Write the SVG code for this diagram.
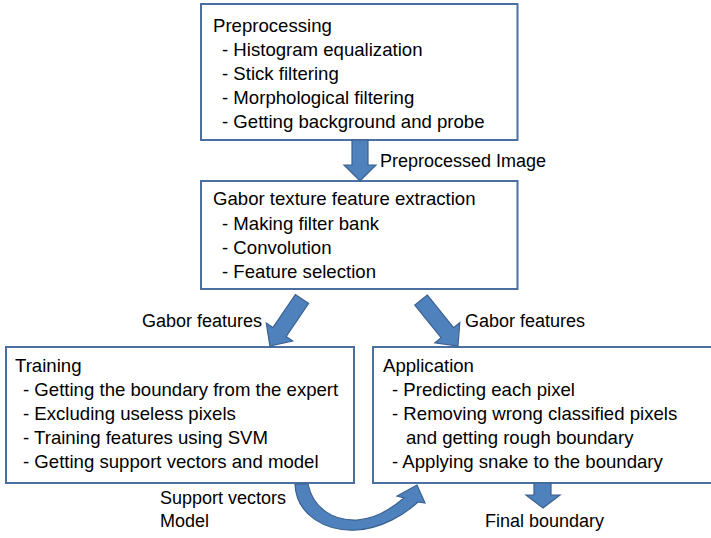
<svg xmlns="http://www.w3.org/2000/svg" width="711" height="538" viewBox="0 0 711 538">
<style>
.box{fill:#fff;stroke:#4A6FA0;stroke-width:2}
.t{font-family:"Liberation Sans",Arial,sans-serif;font-size:18px;fill:#000}
.b{font-size:18.6px}
.arr{fill:#4F81BD;stroke:#3A6190;stroke-width:1.2;stroke-linejoin:miter}
</style>
<rect width="711" height="538" fill="#fff"/>
<g id="preprocessing">
<rect class="box" x="201" y="4" width="316.5" height="136"/>
<text class="t b" x="213" y="32">Preprocessing</text>
<text class="t b" x="222" y="56">- Histogram equalization</text>
<text class="t b" x="222" y="80">- Stick filtering</text>
<text class="t b" x="222" y="104">- Morphological filtering</text>
<text class="t b" x="222" y="128">- Getting background and probe</text>
</g>
<g id="gabor">
<rect class="box" x="201" y="181" width="316.5" height="108"/>
<text class="t b" x="213" y="205">Gabor texture feature extraction</text>
<text class="t b" x="222" y="230">- Making filter bank</text>
<text class="t b" x="222" y="254">- Convolution</text>
<text class="t b" x="222" y="278">- Feature selection</text>
</g>
<g id="training">
<rect class="box" x="6" y="347" width="348" height="136"/>
<text class="t b" x="15" y="372">Training</text>
<text class="t b" x="23" y="396">- Getting the boundary from the expert</text>
<text class="t b" x="23" y="420">- Excluding useless pixels</text>
<text class="t b" x="23" y="444">- Training features using SVM</text>
<text class="t b" x="23" y="468">- Getting support vectors and model</text>
</g>
<g id="application">
<rect class="box" x="373" y="347" width="345" height="136"/>
<text class="t b" x="383" y="372">Application</text>
<text class="t b" x="392" y="396">- Predicting each pixel</text>
<text class="t b" x="392" y="420">- Removing wrong classified pixels</text>
<text class="t b" x="406" y="444">and getting rough boundary</text>
<text class="t b" x="392" y="468">- Applying snake to the boundary</text>
</g>
<g id="connectors">
<path class="arr" d="M352,140 H368 V165 H376 L360,181 L344,165 H352 Z"/>
<path class="arr" transform="translate(302,299) rotate(124.25)" d="M0,-8 H40 V-16 L57,0 L40,16 V8 H0 Z"/>
<path class="arr" transform="translate(421,300) rotate(51.2)" d="M0,-8 H42 V-16 L59,0 L42,16 V8 H0 Z"/>
<path class="arr" d="M295,484 C296,515 326,532 357,530 C382,528 404,515 418,502 L425,503 L417,485 L397,496 L404,498 C390,510 375,519 357,520 C333,521 313,508 308,484 Z"/>
<path class="arr" d="M534,483 H551 V495 H560 L543,508 L526,495 H534 Z"/>
<text class="t" x="380" y="167">Preprocessed Image</text>
<text class="t" x="142" y="327">Gabor features</text>
<text class="t" x="465" y="327">Gabor features</text>
<text class="t" x="160" y="504">Support vectors</text>
<text class="t" x="160" y="527">Model</text>
<text class="t" x="485" y="527">Final boundary</text>
</g>
</svg>
